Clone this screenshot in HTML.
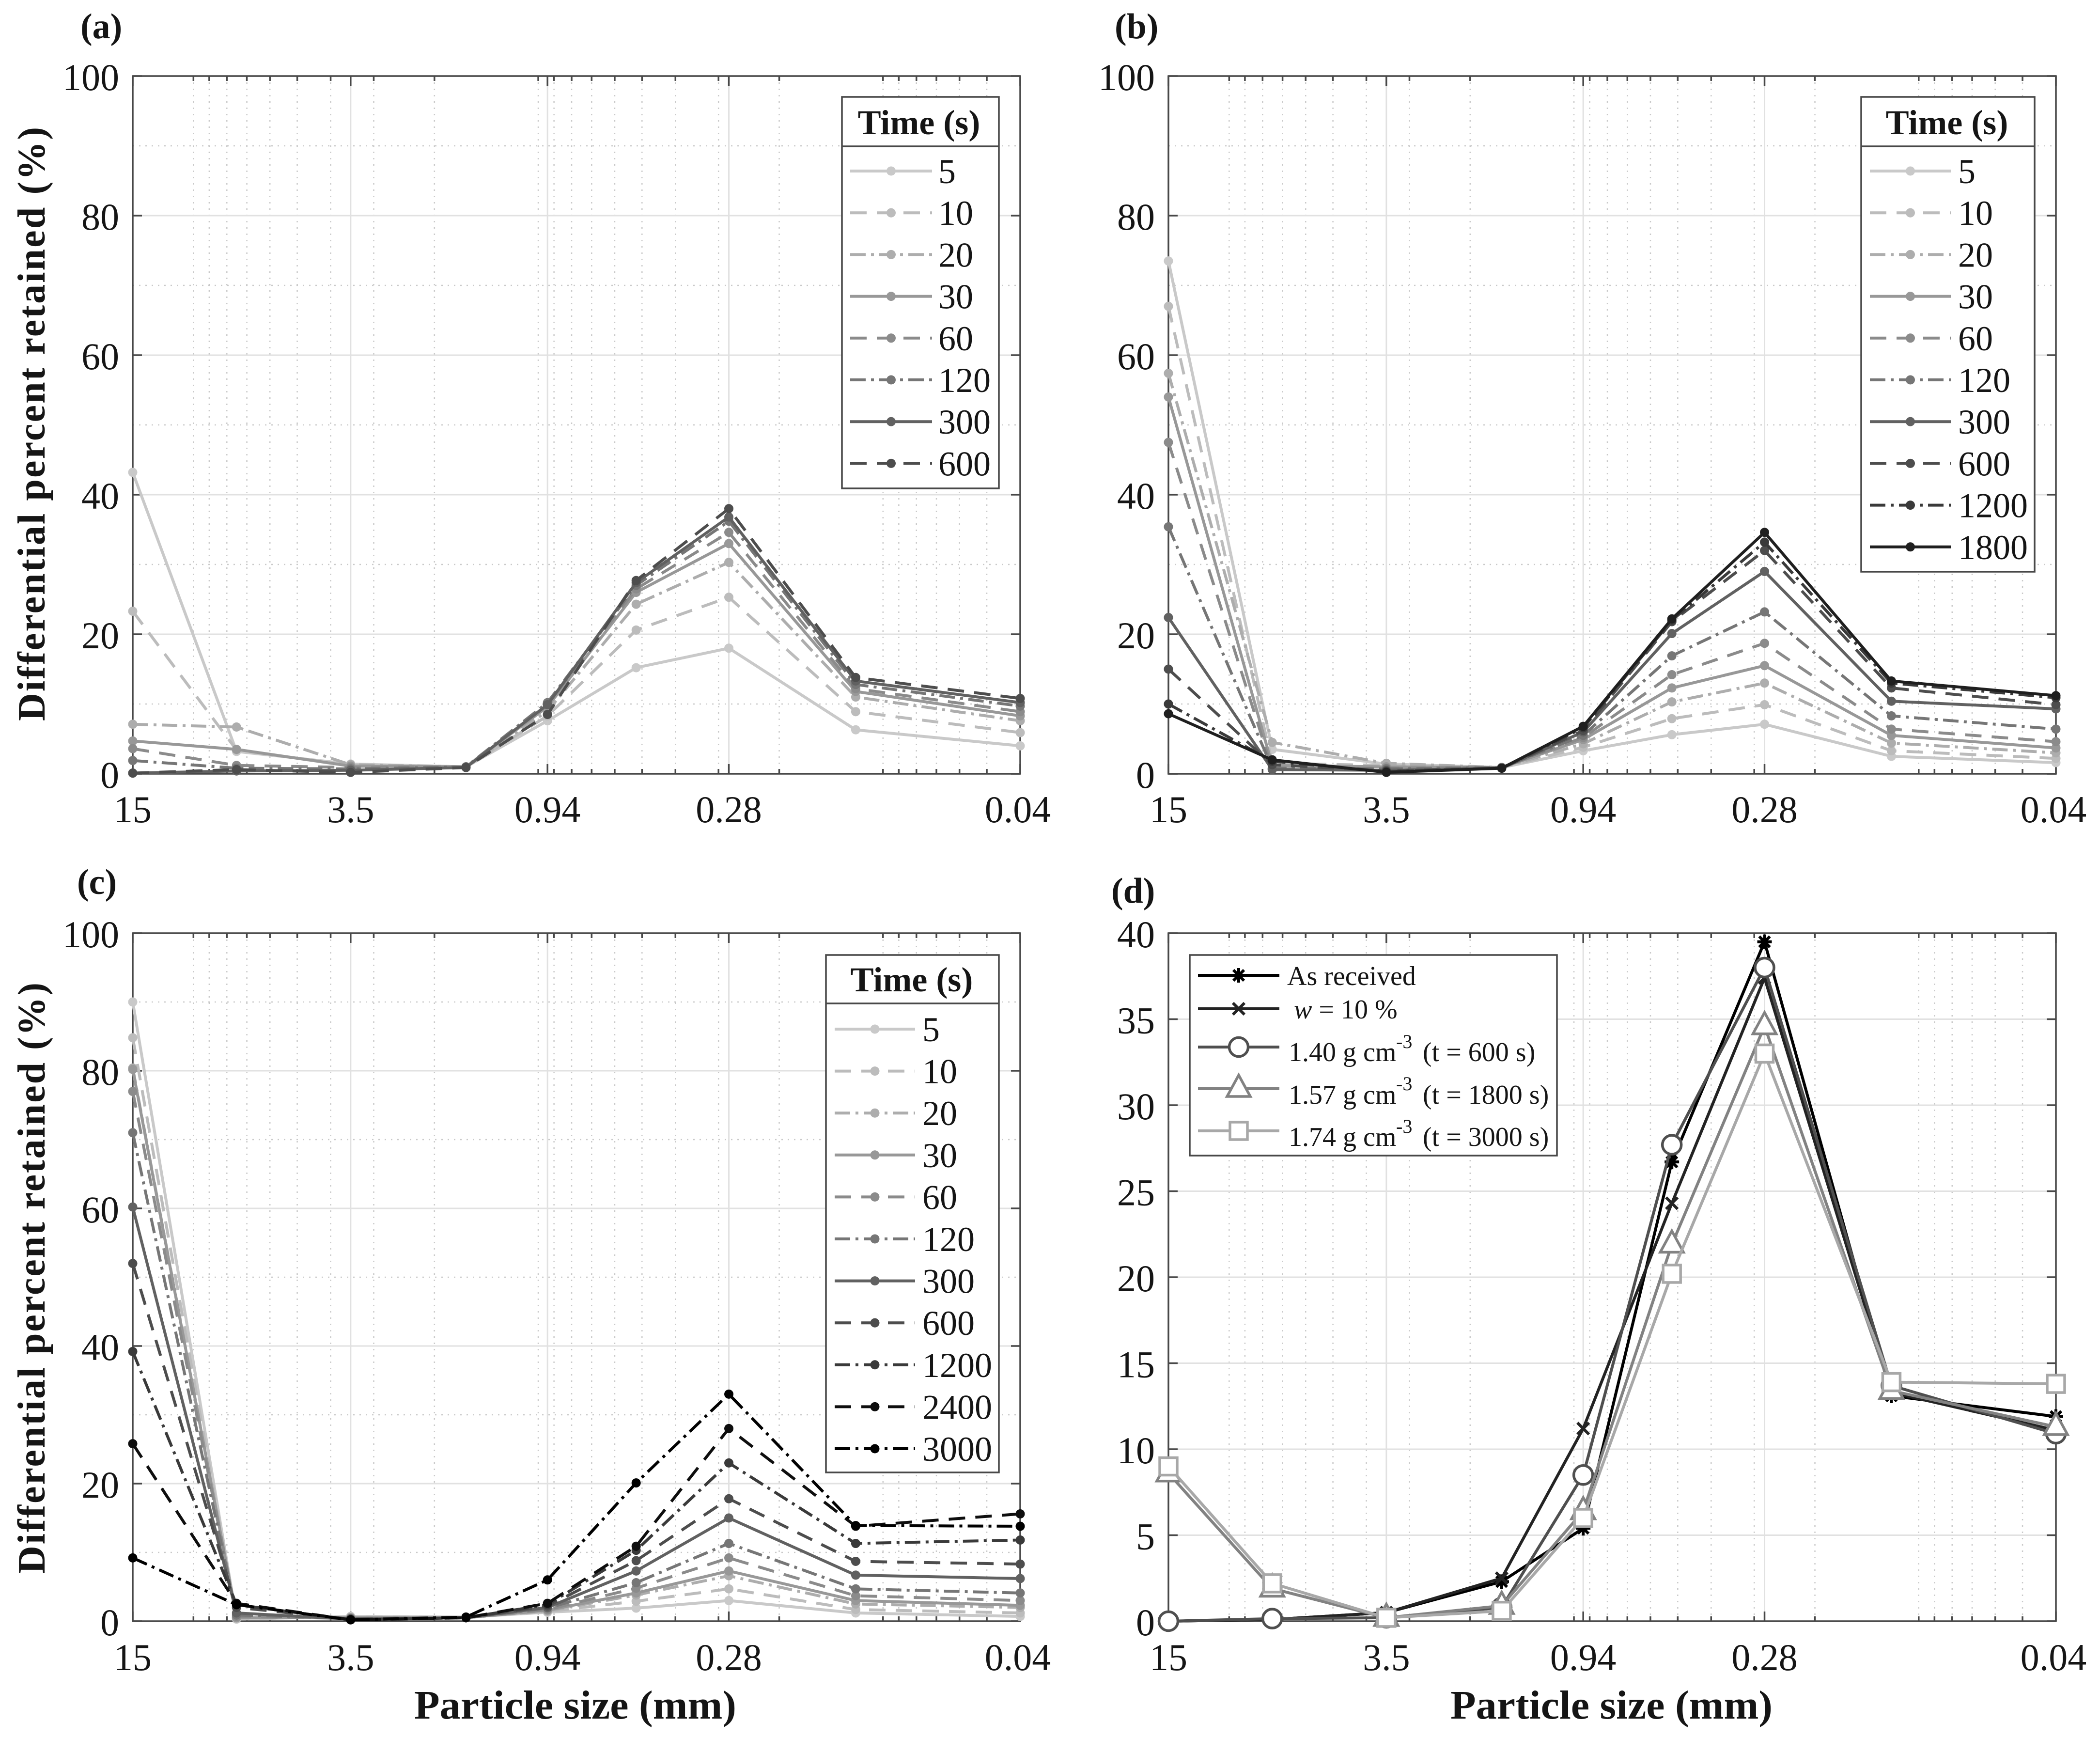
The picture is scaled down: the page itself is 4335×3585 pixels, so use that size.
<!DOCTYPE html>
<html lang="en">
<head>
<meta charset="utf-8">
<title>Differential percent retained vs particle size</title>
<style>
  html, body { margin: 0; padding: 0; background: #fff; }
  svg { display: block; }
  text { font-family: "Liberation Serif", "Times New Roman", serif; fill: #151515; }
  .bold { font-weight: bold; }
</style>
</head>
<body>
<svg id="figure" xmlns="http://www.w3.org/2000/svg" width="4335" height="3585" viewBox="0 0 4335 3585">
  <rect x="0" y="0" width="4335" height="3585" fill="#fff"/>
  <g id="panel-a"></g>
  <g id="panel-b"></g>
  <g id="panel-c"></g>
  <g id="panel-d"></g>

  <g id="static-labels">
    <text class="bold" x="166" y="79" font-size="74">(a)</text>
    <text class="bold" x="2301" y="79" font-size="74">(b)</text>
    <text class="bold" x="159" y="1845" font-size="74">(c)</text>
    <text class="bold" x="2294" y="1863" font-size="74">(d)</text>

    <text class="bold" font-size="80" text-anchor="middle" textLength="1226" lengthAdjust="spacing" transform="translate(92 875) rotate(-90)">Differential percent retained (%)</text>
    <text class="bold" font-size="80" text-anchor="middle" textLength="1220" lengthAdjust="spacing" transform="translate(92 2638) rotate(-90)">Differential percent retained (%)</text>

    <text class="bold" font-size="84" x="855" y="3547" textLength="665" lengthAdjust="spacingAndGlyphs">Particle size (mm)</text>
    <text class="bold" font-size="84" x="2994" y="3547" textLength="665" lengthAdjust="spacingAndGlyphs">Particle size (mm)</text>
  </g>
</svg>

<script>
// ---------- shared axis data ----------
const particleSizes = [15, 7.5, 3.5, 1.62, 0.94, 0.52, 0.28, 0.12, 0.04];
const xTickValues = [15, 3.5, 0.94, 0.28, 0.04];
const xTickLabels = ['15', '3.5', '0.94', '0.28', '0.04'];
const xMinorValues = [10, 9, 8, 7, 6, 5, 4, 3, 2, 1, 0.9, 0.8, 0.7, 0.6, 0.5, 0.4, 0.3, 0.2, 0.1, 0.09, 0.08, 0.07, 0.06, 0.05];
const yTicksPercent = [0, 20, 40, 60, 80, 100];
const yTickLabelsPercent = ['0', '20', '40', '60', '80', '100'];
const yMinorPercent = [10, 30, 50, 70, 90];
const yTicksD = [0, 5, 10, 15, 20, 25, 30, 35, 40];
const yTickLabelsD = ['0', '5', '10', '15', '20', '25', '30', '35', '40'];
const yMinorD = [];

// ---------- panel (a) ----------
const timesA = ['5', '10', '20', '30', '60', '120', '300', '600'];
const a5 = [43.2, 3.2, 1.4, 1.0, 7.6, 15.2, 18.0, 6.3, 4.0];
const a10 = [23.3, 3.4, 1.2, 1.0, 8.3, 20.6, 25.3, 8.9, 5.9];
const a20 = [7.1, 6.7, 1.3, 1.0, 9.0, 24.3, 30.3, 11.0, 7.6];
const a30 = [4.7, 3.5, 1.1, 1.0, 9.6, 26.0, 33.0, 11.8, 8.3];
const a60 = [3.6, 1.2, 0.9, 1.0, 9.9, 26.5, 34.6, 12.2, 8.9];
const a120 = [1.9, 0.8, 0.7, 1.0, 10.2, 27.0, 36.2, 12.8, 9.7];
const a300 = [0.1, 0.4, 0.5, 0.9, 9.9, 27.4, 36.8, 13.3, 10.2];
const a600 = [0.1, 0.6, 0.2, 0.9, 8.5, 27.7, 38.0, 13.8, 10.8];

// ---------- panel (b) ----------
const timesB = ['5', '10', '20', '30', '60', '120', '300', '600', '1200', '1800'];
const b5 = [73.5, 3.5, 1.4, 0.9, 3.3, 5.6, 7.1, 2.5, 1.6];
const b10 = [67.0, 1.5, 1.2, 0.9, 3.8, 7.9, 9.9, 3.3, 2.2];
const b20 = [57.4, 4.5, 1.5, 0.9, 4.3, 10.3, 13.0, 4.4, 3.0];
const b30 = [54.0, 1.2, 1.0, 0.9, 4.9, 12.3, 15.5, 5.5, 3.7];
const b60 = [47.5, 0.7, 0.8, 0.9, 5.2, 14.2, 18.7, 6.4, 4.6];
const b120 = [35.4, 0.8, 0.7, 0.9, 5.5, 16.9, 23.2, 8.3, 6.4];
const b300 = [22.4, 0.6, 0.5, 0.8, 6.0, 20.1, 29.0, 10.4, 9.3];
const b600 = [15.0, 1.3, 0.4, 0.8, 6.2, 21.8, 32.0, 12.3, 9.9];
const b1200 = [10.0, 1.8, 0.3, 0.8, 6.6, 22.0, 33.2, 13.0, 10.9];
const b1800 = [8.6, 2.0, 0.2, 0.8, 6.8, 22.2, 34.6, 13.3, 11.2];

// ---------- panel (c) ----------
const timesC = ['5', '10', '20', '30', '60', '120', '300', '600', '1200', '2400', '3000'];
const c5 = [90.0, 0.3, 0.7, 0.6, 1.3, 1.9, 3.0, 1.2, 0.7];
const c10 = [84.8, 0.4, 0.6, 0.6, 1.4, 2.9, 4.7, 1.7, 1.2];
const c20 = [80.4, 0.5, 0.5, 0.5, 1.5, 3.8, 6.6, 2.5, 2.0];
const c30 = [80.2, 0.5, 0.5, 0.5, 1.6, 4.1, 7.3, 3.0, 2.3];
const c60 = [77.0, 0.7, 0.4, 0.5, 1.7, 4.8, 9.2, 3.7, 3.0];
const c120 = [71.0, 0.9, 0.4, 0.5, 1.9, 5.6, 11.3, 4.7, 4.1];
const c300 = [60.2, 1.2, 0.3, 0.5, 2.0, 7.3, 15.0, 6.7, 6.2];
const c600 = [52.0, 2.0, 0.3, 0.5, 2.2, 8.8, 17.8, 8.7, 8.3];
const c1200 = [39.2, 2.4, 0.2, 0.5, 2.4, 10.3, 23.0, 11.3, 11.8];
const c2400 = [25.8, 2.6, 0.2, 0.5, 2.6, 10.9, 28.0, 13.8, 15.6];
const c3000 = [9.2, 2.4, 0.2, 0.6, 6.0, 20.1, 33.0, 13.9, 13.8];

// ---------- panel (d) ----------
const dAsReceived = [0, 0.1, 0.5, 2.3, 5.4, 26.7, 39.5, 13.1, 11.9];
const dW10 = [0, 0.1, 0.5, 2.5, 11.2, 24.3, 37.4, 13.3, 11.1];
const d140 = [0, 0.15, 0.2, 0.8, 8.5, 27.7, 38.0, 13.7, 10.9];
const d157 = [8.6, 1.9, 0.2, 0.9, 6.4, 21.9, 34.6, 13.4, 11.3];
const d174 = [9.0, 2.2, 0.2, 0.6, 6.0, 20.2, 33.0, 13.9, 13.8];

const seriesA = [a5, a10, a20, a30, a60, a120, a300, a600];
const seriesB = [b5, b10, b20, b30, b60, b120, b300, b600, b1200, b1800];
const seriesC = [c5, c10, c20, c30, c60, c120, c300, c600, c1200, c2400, c3000];
const seriesD = [dAsReceived, dW10, d140, d157, d174];

// ---------- styles (separate from the data) ----------
const grayByTime = {
  '5': '#c9c9c9', '10': '#bcbcbc', '20': '#adadad', '30': '#989898', '60': '#8b8b8b',
  '120': '#767676', '300': '#616161', '600': '#4d4d4d', '1200': '#3a3a3a', '1800': '#1f1f1f',
  '2400': '#0e0e0e', '3000': '#000000'
};
const dashed = '34 21';
const dashDot = '32 11 6 11';
const dashByTime = {
  '5': 'none', '10': dashed, '20': dashDot, '30': 'none', '60': dashed,
  '120': dashDot, '300': 'none', '600': dashed, '1200': dashDot, '1800': 'none',
  '2400': dashed, '3000': dashDot
};
const dColors = ['#000000', '#232323', '#4f4f4f', '#828282', '#a8a8a8'];
const dMarkers = ['star', 'cross', 'circle', 'triangle', 'square'];
const LINE_W = 6;
const DOT_R = 9.5;

const NS = 'http://www.w3.org/2000/svg';
function make(parent, tag, attrs, text) {
  const el = document.createElementNS(NS, tag);
  for (const k in attrs) el.setAttribute(k, attrs[k]);
  if (text !== undefined) el.textContent = text;
  parent.appendChild(el);
  return el;
}

function xScale(box, size) {
  const lo = Math.log10(15), hi = Math.log10(0.04);
  return box.left + (lo - Math.log10(size)) / (lo - hi) * (box.right - box.left);
}
function yScale(box, yMax, v) {
  return box.bottom - v / yMax * (box.bottom - box.top);
}

function drawAxes(g, box, yMax, yTicks, yLabels, yMinor, yLabelRight, xLabelBaseline) {
  const grid = make(g, 'g', {});
  
  
  xMinorValues.forEach(function (s) {
    const x = xScale(box, s);
    const l = make(grid, 'line', { x1: x, x2: x, y1: box.top, y2: box.bottom, stroke: '#c9c9c9', 'stroke-width': 2.5, 'stroke-dasharray': '3 10' });
    
    
  });
  yMinor.forEach(function (v) {
    const y = yScale(box, yMax, v);
    const l = make(grid, 'line', { x1: box.left, x2: box.right, y1: y, y2: y, stroke: '#c9c9c9', 'stroke-width': 2.5, 'stroke-dasharray': '3 10' });
    
    
  });
  xTickValues.forEach(function (s) {
    const x = xScale(box, s);
    const l = make(grid, 'line', { x1: x, x2: x, y1: box.top, y2: box.bottom, stroke: '#e1e1e1', 'stroke-width': 3 });
    
    
  });
  yTicks.forEach(function (v) {
    const y = yScale(box, yMax, v);
    const l = make(grid, 'line', { x1: box.left, x2: box.right, y1: y, y2: y, stroke: '#e1e1e1', 'stroke-width': 3 });
    
    
  });

  const axes = make(g, 'g', { stroke: '#484848', 'stroke-width': 3.5 });
  
  
  const frame = make(axes, 'rect', { x: box.left, y: box.top, width: box.right - box.left, height: box.bottom - box.top, fill: 'none' });
  
  
  xMinorValues.forEach(function (s) {
    const x = xScale(box, s);
    const b = make(axes, 'line', { x1: x, x2: x, y1: box.bottom, y2: box.bottom - 10 });
    
    
    const t = make(axes, 'line', { x1: x, x2: x, y1: box.top, y2: box.top + 10 });
    
    
  });
  xTickValues.forEach(function (s, i) {
    const x = xScale(box, s);
    const b = make(axes, 'line', { x1: x, x2: x, y1: box.bottom, y2: box.bottom - 20 });
    
    
    const t = make(axes, 'line', { x1: x, x2: x, y1: box.top, y2: box.top + 20 });
    
    
    const lab = make(g, 'text', { x: i === 4 ? x - 5 : x, y: xLabelBaseline, 'font-size': 78, 'text-anchor': 'middle' }, xTickLabels[i]);
    
    
  });
  yTicks.forEach(function (v, i) {
    const y = yScale(box, yMax, v);
    const l = make(axes, 'line', { x1: box.left, x2: box.left + 19, y1: y, y2: y });
    
    
    const r = make(axes, 'line', { x1: box.right, x2: box.right - 19, y1: y, y2: y });
    
    
    const lab = make(g, 'text', { x: yLabelRight, y: y + 29, 'font-size': 78, 'text-anchor': 'end' }, yLabels[i]);
    
    
  });
}

function drawTimeSeries(g, box, yMax, times, series) {
  series.forEach(function (vals, i) {
    const color = grayByTime[times[i]];
    const dash = dashByTime[times[i]];
    const sg = make(g, 'g', {});
    
    
    const pts = vals.map(function (v, k) { return xScale(box, particleSizes[k]).toFixed(1) + ',' + yScale(box, yMax, v).toFixed(1); }).join(' ');
    const line = make(sg, 'polyline', { points: pts, fill: 'none', stroke: color, 'stroke-width': LINE_W, 'stroke-linejoin': 'round' });
    if (dash !== 'none') line.setAttribute('stroke-dasharray', dash);
    
    
    vals.forEach(function (v, k) {
      const c = make(sg, 'circle', { cx: xScale(box, particleSizes[k]), cy: yScale(box, yMax, v), r: DOT_R, fill: color });
      
      
    });
  });
}

function drawTimeLegend(g, lg, times) {
  const leg = make(g, 'g', {});
  
  
  const frame = make(leg, 'rect', { x: lg.x, y: lg.y, width: lg.w, height: lg.h, fill: '#fff', stroke: '#484848', 'stroke-width': 3.5 });
  
  
  const sep = make(leg, 'line', { x1: lg.x, x2: lg.x + lg.w, y1: lg.sep, y2: lg.sep, stroke: '#484848', 'stroke-width': 3.5 });
  
  
  const title = make(leg, 'text', { x: lg.titleX, y: lg.sep - 25, 'font-size': 72, 'font-weight': 'bold', 'text-anchor': 'middle' }, 'Time (s)');
  
  
  times.forEach(function (t, i) {
    const y = lg.first + i * lg.step;
    const color = grayByTime[t];
    const dash = dashByTime[t];
    const l = make(leg, 'line', { x1: lg.lineX1, x2: lg.lineX2, y1: y, y2: y, stroke: color, 'stroke-width': LINE_W });
    if (dash !== 'none') l.setAttribute('stroke-dasharray', dash);
    
    
    const m = make(leg, 'circle', { cx: (lg.lineX1 + lg.lineX2) / 2, cy: y, r: DOT_R, fill: color });
    
    
    const txt = make(leg, 'text', { x: lg.textX, y: y + 25, 'font-size': 72 }, t);
    
    
  });
}

function drawMarker(g, kind, x, y, color) {
  const base = { fill: '#fff', stroke: color, 'stroke-width': 5.5, 'stroke-linejoin': 'miter' };
  let el;
  if (kind === 'circle') {
    el = make(g, 'circle', Object.assign({ cx: x, cy: y, r: 19.5 }, base));
  } else if (kind === 'square') {
    el = make(g, 'rect', Object.assign({ x: x - 18, y: y - 18, width: 36, height: 36 }, base));
  } else if (kind === 'triangle') {
    el = make(g, 'polygon', Object.assign({ points: (x) + ',' + (y - 28) + ' ' + (x + 24) + ',' + (y + 16) + ' ' + (x - 24) + ',' + (y + 16) }, base));
  } else if (kind === 'cross') {
    const a = 12;
    el = make(g, 'path', { d: 'M' + (x - a) + ' ' + (y - a) + 'L' + (x + a) + ' ' + (y + a) + 'M' + (x - a) + ' ' + (y + a) + 'L' + (x + a) + ' ' + (y - a), stroke: color, 'stroke-width': 6, fill: 'none' });
  } else {
    const a = 15, b = 11;
    el = make(g, 'path', { d: 'M' + x + ' ' + (y - a) + 'L' + x + ' ' + (y + a) + 'M' + (x - b) + ' ' + (y - b) + 'L' + (x + b) + ' ' + (y + b) + 'M' + (x - b) + ' ' + (y + b) + 'L' + (x + b) + ' ' + (y - b) + 'M' + (x - a) + ' ' + y + 'L' + (x + a) + ' ' + y, stroke: color, 'stroke-width': 6, fill: 'none' });
  }
  
  
}

function drawDensitySeries(g, box, yMax) {
  seriesD.forEach(function (vals, i) {
    const sg = make(g, 'g', {});
    
    
    const pts = vals.map(function (v, k) { return xScale(box, particleSizes[k]).toFixed(1) + ',' + yScale(box, yMax, v).toFixed(1); }).join(' ');
    const line = make(sg, 'polyline', { points: pts, fill: 'none', stroke: dColors[i], 'stroke-width': LINE_W, 'stroke-linejoin': 'round' });
    
    
    vals.forEach(function (v, k) {
      drawMarker(sg, dMarkers[i], xScale(box, particleSizes[k]), yScale(box, yMax, v), dColors[i]);
    });
  });
}

function drawDensityLegend(g) {
  const leg = make(g, 'g', {});
  
  
  const frame = make(leg, 'rect', { x: 2456, y: 1971, width: 758, height: 414, fill: '#fff', stroke: '#484848', 'stroke-width': 3.5 });
  
  
  const rows = [2013, 2082, 2161, 2247, 2334];
  rows.forEach(function (y, i) {
    const l = make(leg, 'line', { x1: 2473, x2: 2641, y1: y, y2: y, stroke: dColors[i], 'stroke-width': LINE_W });
    
    
    drawMarker(leg, dMarkers[i], 2557, y, dColors[i]);
  });
}

const boxA = { left: 274, right: 2106, top: 157, bottom: 1597 };
const boxB = { left: 2412, right: 4244, top: 157, bottom: 1597 };
const boxC = { left: 274, right: 2106, top: 1926, bottom: 3346 };
const boxD = { left: 2412, right: 4244, top: 1926, bottom: 3346 };

const gA = document.getElementById('panel-a');
drawAxes(gA, boxA, 100, yTicksPercent, yTickLabelsPercent, yMinorPercent, 246, 1697);
drawTimeSeries(gA, boxA, 100, timesA, seriesA);
drawTimeLegend(gA, { x: 1738, y: 200, w: 324, h: 808, sep: 302, titleX: 1897, first: 353, step: 86.2, lineX1: 1755, lineX2: 1924, textX: 1937 }, timesA);

const gB = document.getElementById('panel-b');
drawAxes(gB, boxB, 100, yTicksPercent, yTickLabelsPercent, yMinorPercent, 2384, 1697);
drawTimeSeries(gB, boxB, 100, timesB, seriesB);
drawTimeLegend(gB, { x: 3842, y: 200, w: 358, h: 980, sep: 302, titleX: 4019, first: 353, step: 86.2, lineX1: 3860, lineX2: 4027, textX: 4042 }, timesB);

const gC = document.getElementById('panel-c');
drawAxes(gC, boxC, 100, yTicksPercent, yTickLabelsPercent, yMinorPercent, 246, 3447);
drawTimeSeries(gC, boxC, 100, timesC, seriesC);
drawTimeLegend(gC, { x: 1705, y: 1971, w: 357, h: 1068, sep: 2071, titleX: 1882, first: 2124, step: 86.6, lineX1: 1723, lineX2: 1889, textX: 1904 }, timesC);

const gD = document.getElementById('panel-d');
drawAxes(gD, boxD, 40, yTicksD, yTickLabelsD, yMinorD, 2384, 3447);
drawDensitySeries(gD, boxD, 40);
drawDensityLegend(gD);

// panel (d) legend labels go on top of the legend frame
const legendText = document.createElementNS(NS, 'g');


legendText.setAttribute('font-size', '56');
legendText.innerHTML =
  '<text x="2657" y="2033">As received</text>' +
  '<text x="2671" y="2102"><tspan font-style="italic">w</tspan> = 10 %</text>' +
  '<text x="2660" y="2190">1.40 g cm<tspan x="2882" y="2163" font-size="40">-3</tspan><tspan x="2937" y="2190">(t = 600 s)</tspan></text>' +
  '<text x="2660" y="2278">1.57 g cm<tspan x="2882" y="2250" font-size="40">-3</tspan><tspan x="2937" y="2278">(t = 1800 s)</tspan></text>' +
  '<text x="2660" y="2365">1.74 g cm<tspan x="2882" y="2338" font-size="40">-3</tspan><tspan x="2937" y="2365">(t = 3000 s)</tspan></text>';
gD.appendChild(legendText);
</script>
</body>
</html>
